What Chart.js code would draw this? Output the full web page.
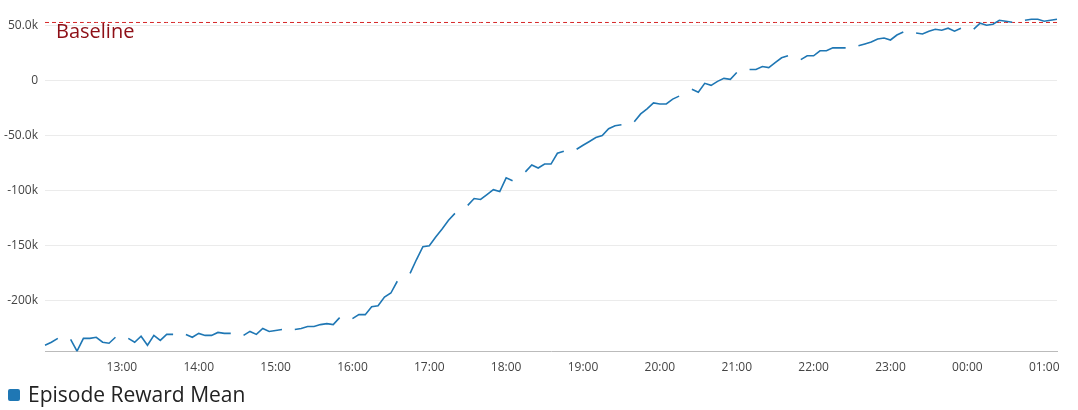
<!DOCTYPE html>
<html>
<head>
<meta charset="utf-8">
<script src="https://cdn.jsdelivr.net/npm/chart.js@4"></script>
<style>
	body { margin: 0; background: #fff; font-family: "Open Sans", sans-serif; }
	#wrap { position: relative; width: 1078px; height: 410px; }
	#box { position: absolute; left: 0; top: 0; width: 1078px; height: 384px; }
	#legend { position: absolute; left: 8px; top: 380px; font-size: 21px; color: #222; }
	#legend span { display: inline-block; width: 12px; height: 12px; background: #1f77b4; border-radius: 2px; margin-right: 8px; vertical-align: 1px; }
</style>
</head>
<body>
<div id="wrap">
	<div id="box"><canvas id="c"></canvas></div>
	<div id="legend"><span></span>Episode Reward Mean</div>
</div>
<script>
// ── Data (thousands, 5-minute samples from 12:00; null = missing) ──────────
var startHour   = 12;
var stepMinutes = 5;
var rewardK = [
	-240.2, -237.5, -234, null, -234.9, -245.6, -234, -234, -233, -237.5, -238.4, -233,
	null, -234, -237.5, -232, -240.2, -231.3, -235.8, -230.4, -230.4, null, -230.4, -233,
	-229.5, -231.3, -231.3, -228.6, -229.5, -229.5, null, -231.3, -227.7, -230.4, -225, -227.7,
	-226.8, -225.9, null, -225.9, -225, -223.3, -223.3, -221.5, -220.6, -221.5, -215.2, null,
	-216.1, -212.5, -212.5, -205.4, -204.5, -196.5, -192.9, -182.2, null, -175, -162.5, -150.9,
	-150, -142, -134.8, -126.8, -120.6, null, -113.4, -107.2, -108, -103.6, -99.1, -100.9,
	-88.4, -91.1, null, -83, -76.8, -79.5, -75.9, -75.9, -66.1, -64.3, null, -62.5,
	-58.9, -55.4, -51.8, -50, -43.8, -41.1, -40.2, null, -37.5, -30.4, -25.9, -20.5,
	-21.4, -21.4, -17, -14.3, null, -8, -10.7, -2.7, -4.5, -0.9, 1.8, 0.9,
	7.1, null, 9.8, 9.8, 12.5, 11.6, 16.1, 20.5, 22.3, null, 18.8, 22.3,
	22.3, 26.8, 26.8, 29.5, 29.5, 29.5, null, 31.3, 33, 34.8, 37.5, 38.4,
	36.6, 41.1, 43.8, null, 42.9, 42, 44.6, 46.4, 45.5, 47.3, 44.6, 47.3,
	null, 46.4, 51.8, 50, 50.9, 54.5, 53.6, 52.7, null, 54.5, 55.4, 55.4,
	53.6, 54.5, 55.4
];
var baselineValue = 52500;
var yTicks        = [ 50000, 0, -50000, -100000, -150000, -200000 ];

// ── Build labels / series ──────────────────────────────────────────────────
var labels = [];
var reward = [];
var baseline = [];
rewardK.forEach( function ( v, i ) {
	var m = startHour * 60 + i * stepMinutes;
	var h = Math.floor( m / 60 ) % 24;
	var mm = m % 60;
	labels.push( ( h < 10 ? '0' : '' ) + h + ':' + ( mm < 10 ? '0' : '' ) + mm );
	reward.push( v === null ? null : v * 1000 );
	baseline.push( baselineValue );
} );

function fmtY( v ) {
	if ( v === 0 ) { return '0'; }
	if ( Math.abs( v ) >= 100000 ) { return ( v / 1000 ) + 'k'; }
	return ( v / 1000 ).toFixed( 1 ) + 'k';
}

var baselineLabel = {
	id : 'baselineLabel',
	afterDatasetsDraw : function ( chart ) {
		var ctx = chart.ctx;
		ctx.save();
		ctx.font = '20px "Open Sans", sans-serif';
		ctx.fillStyle = '#8e0f16';
		ctx.textBaseline = 'middle';
		ctx.fillText( 'Baseline', chart.chartArea.left + 11, 32 );
		ctx.restore();
	}
};

new Chart( document.getElementById( 'c' ), {
	type : 'line',
	data : {
		labels   : labels,
		datasets : [
			{
				data        : reward,
				borderColor : '#1f77b4',
				borderWidth : 1.6,
				pointRadius : 0,
				tension     : 0,
				spanGaps    : false
			},
			{
				data        : baseline,
				borderColor : '#d62728',
				borderWidth : 1,
				borderDash  : [ 4, 3 ],
				pointRadius : 0
			}
		]
	},
	options : {
		responsive          : true,
		maintainAspectRatio : false,
		animation           : false,
		layout  : { padding: { top: 10, right: 21 } },
		plugins : { legend: { display: false }, tooltip: { enabled: false } },
		scales  : {
			x : {
				grid   : { display: false, drawTicks: false },
				border : { color: '#bbb' },
				ticks  : {
					autoSkip    : false,
					maxRotation : 0,
					padding     : 9,
					color       : '#444',
					font        : { size: 12, family: '"Open Sans", sans-serif' },
					callback    : function ( val, i ) {
						var l = labels[ i ];
						return ( i > 0 && l.slice( 3 ) === '00' ) ? l : null;
					}
				}
			},
			y : {
				min : -246000,
				max : 60000,
				afterBuildTicks : function ( scale ) {
					scale.ticks = yTicks.map( function ( v ) { return { value: v }; } );
				},
				afterFit : function ( scale ) { scale.width = 45; },
				grid   : { color: '#ebebeb', drawTicks: false },
				border : { display: false },
				ticks  : {
					padding  : 7,
					color    : '#444',
					font     : { size: 12, family: '"Open Sans", sans-serif' },
					callback : fmtY
				}
			}
		}
	},
	plugins : [ baselineLabel ]
} );
</script>
</body>
</html>
